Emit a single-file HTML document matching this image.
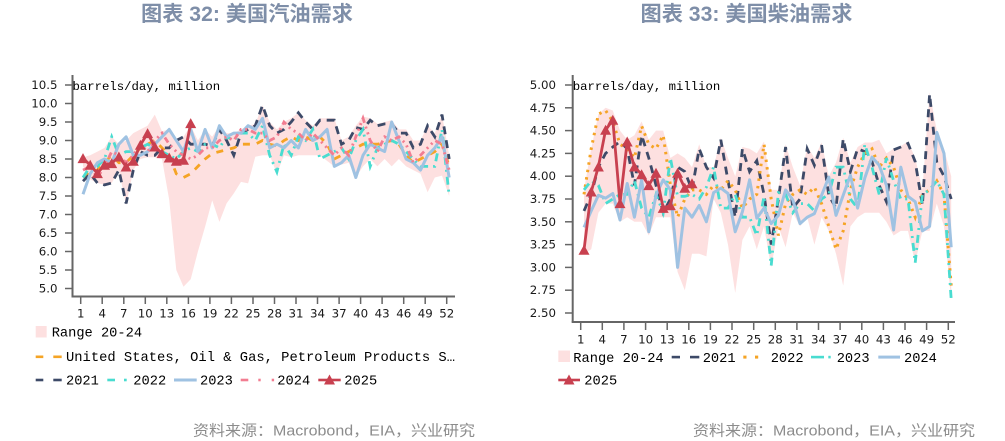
<!DOCTYPE html>
<html><head><meta charset="utf-8"><style>
html,body{margin:0;padding:0;background:#fff;}
svg{display:block;}
.tk{font-family:"DejaVu Sans",sans-serif;font-size:11.8px;fill:#1a1a1a;}
.lg{font-family:"Liberation Mono",monospace;font-size:13.7px;fill:#000;}
.un{font-family:"Liberation Mono",monospace;font-size:12.3px;fill:#000;}
.ti{font-family:"Liberation Sans","Noto Sans CJK SC",sans-serif;font-size:21px;font-weight:bold;fill:#7e8ea8;}
.ft{font-family:"Liberation Sans","Noto Sans CJK SC",sans-serif;font-size:15px;fill:#8c8c8c;}
</style></head><body>
<svg width="1005" height="441" viewBox="0 0 1005 441" xmlns="http://www.w3.org/2000/svg">
<defs>
<marker id="tri" markerWidth="12" markerHeight="12" refX="6" refY="6" markerUnits="userSpaceOnUse" viewBox="0 0 12 12" overflow="visible"><polygon points="6,0.8 11.5,10.8 0.5,10.8" fill="#c8404f"/></marker>
</defs>
<rect width="1005" height="441" fill="#fff"/>

<!-- Titles -->
<text class="ti" x="247" y="21" text-anchor="middle" textLength="212" lengthAdjust="spacingAndGlyphs">图表 32: 美国汽油需求</text>
<text class="ti" x="746.5" y="21" text-anchor="middle" textLength="212" lengthAdjust="spacingAndGlyphs">图表 33: 美国柴油需求</text>

<!-- ============ LEFT CHART ============ -->
<polygon fill="#fde0e0" points="83,157.2 90.2,155.3 97.4,151.6 104.5,147.9 111.7,136.8 118.9,144.2 126.1,140.5 133.3,133.1 140.4,129.4 147.6,125.7 154.8,114.6 162,131.3 169.2,129.4 176.3,140.5 183.5,136.8 190.7,125.7 197.9,140.5 205.1,129.4 212.2,136.8 219.4,125.7 226.6,133.1 233.8,133.1 241,129.4 248.1,125.7 255.3,123.9 262.5,105.3 269.7,122 276.9,129.4 284,122 291.2,118.3 298.4,112.8 305.6,120.2 312.8,125.7 319.9,118.3 327.1,118.3 334.3,118.3 341.5,140.5 348.7,136.8 355.8,125.7 363,116.5 370.2,118.3 377.4,123.9 384.6,122 391.7,120.2 398.9,129.4 406.1,129.4 413.3,140.5 420.5,140.5 427.6,125.7 434.8,133.1 442,114.6 449.2,155.3 449.2,196 442,175.6 434.8,177.5 427.6,192.3 420.5,173.8 413.3,170.1 406.1,166.4 398.9,159 391.7,166.4 384.6,159 377.4,166.4 370.2,159 363,166.4 355.8,177.5 348.7,162.7 341.5,164.6 334.3,166.4 327.1,160.9 319.9,155.3 312.8,155.3 305.6,155.3 298.4,155.3 291.2,157.2 284,155.3 276.9,173.8 269.7,155.3 262.5,155.3 255.3,156.8 248.1,183.4 241,181.9 233.8,193.4 226.6,203.4 219.4,221.9 212.2,200.4 205.1,226.7 197.9,251.5 190.7,279.3 183.5,286.7 176.3,270 169.2,199.7 162,159 154.8,157.2 147.6,157.2 140.4,159 133.3,170.1 126.1,205.3 118.9,170.1 111.7,183 104.5,184.9 97.4,183 90.2,179.4 83,166.4"/>

<polyline fill="none" stroke="#f5a425" stroke-width="2.8" stroke-dasharray="7,7" points="83,177.5 90.2,172 97.4,170.1 104.5,162.7 111.7,155.3 118.9,162.7 126.1,162.7 133.3,155.3 140.4,147.9 147.6,144.2 154.8,140.5 162,147.9 169.2,155.3 176.3,173.8 183.5,177.5 190.7,173.8 197.9,166.4 205.1,159 212.2,153.5 219.4,151.6 226.6,149.8 233.8,147.9 241,144.2 248.1,144.2 255.3,144.2 262.5,140.5 269.7,144.2 276.9,146 284,140.5 291.2,136.8 298.4,140.5 305.6,136.8 312.8,140.5 319.9,136.8 327.1,144.2 334.3,159 341.5,155.3 348.7,151.6 355.8,147.9 363,144.2 370.2,144.2 377.4,144.2 384.6,142.4 391.7,140.5 398.9,144.2 406.1,155.3 413.3,162.7 420.5,159 427.6,155.3 434.8,151.6 442,144.2 449.2,166.4"/>

<polyline fill="none" stroke="#3d4a68" stroke-width="2.8" stroke-dasharray="8,6" points="83,181.2 90.2,173.8 97.4,183 104.5,184.9 111.7,183 118.9,170.1 126.1,203.4 133.3,170.1 140.4,151.6 147.6,155.3 154.8,155.3 162,147.9 169.2,147.9 176.3,140.5 183.5,136.8 190.7,144.2 197.9,144.2 205.1,144.2 212.2,146 219.4,129.4 226.6,140.5 233.8,155.3 241,133.1 248.1,129.4 255.3,125.7 262.5,105.3 269.7,125.7 276.9,133.1 284,129.4 291.2,122 298.4,112.8 305.6,122 312.8,129.4 319.9,120.2 327.1,120.2 334.3,120.2 341.5,144.2 348.7,140.5 355.8,127.5 363,129.4 370.2,120.2 377.4,125.7 384.6,123.9 391.7,123.9 398.9,133.1 406.1,133.1 413.3,147.9 420.5,144.2 427.6,125.7 434.8,136.8 442,114.6 449.2,159"/>

<polyline fill="none" stroke="#49dcd0" stroke-width="2.8" stroke-dasharray="8,5,2,5" points="83,177.5 90.2,166.4 97.4,166.4 104.5,159 111.7,136.8 118.9,155.3 126.1,151.6 133.3,151.6 140.4,147.9 147.6,144.2 154.8,147.9 162,151.6 169.2,155.3 176.3,159 183.5,151.6 190.7,147.9 197.9,151.6 205.1,144.2 212.2,144.2 219.4,147.9 226.6,136.8 233.8,140.5 241,133.1 248.1,133.1 255.3,140.5 262.5,125.7 269.7,155.3 276.9,171.9 284,144.2 291.2,155.3 298.4,136.8 305.6,140.5 312.8,129.4 319.9,159 327.1,155.3 334.3,151.6 341.5,147.9 348.7,159 355.8,140.5 363,129.4 370.2,166.4 377.4,147.9 384.6,144.2 391.7,140.5 398.9,144.2 406.1,151.6 413.3,159 420.5,166.4 427.6,166.4 434.8,166.4 442,129.4 449.2,196"/>

<polyline fill="none" stroke="#9fc2e2" stroke-width="3" stroke-linejoin="round" points="83,194.2 90.2,173.8 97.4,162.7 104.5,159 111.7,162.7 118.9,144.2 126.1,136.8 133.3,155.3 140.4,155.3 147.6,151.6 154.8,144.2 162,136.8 169.2,129.4 176.3,140.5 183.5,151.6 190.7,129.4 197.9,151.6 205.1,129.4 212.2,147.9 219.4,125.7 226.6,136.8 233.8,133.1 241,133.1 248.1,125.7 255.3,129.4 262.5,118.3 269.7,147.9 276.9,144.2 284,147.9 291.2,140.5 298.4,147.9 305.6,129.4 312.8,140.5 319.9,136.8 327.1,129.4 334.3,166.4 341.5,162.7 348.7,155.3 355.8,177.5 363,155.3 370.2,144.2 377.4,147.9 384.6,151.6 391.7,122 398.9,140.5 406.1,159 413.3,162.7 420.5,170.1 427.6,155.3 434.8,147.9 442,136.8 449.2,177.5"/>

<polyline fill="none" stroke="#f27d91" stroke-width="2.8" stroke-dasharray="6,4,2,4,2,4" points="83,170.1 90.2,166.4 97.4,177.5 104.5,166.4 111.7,151.6 118.9,155.3 126.1,162.7 133.3,155.3 140.4,144.2 147.6,151.6 154.8,140.5 162,133.1 169.2,144.2 176.3,151.6 183.5,155.3 190.7,159 197.9,155.3 205.1,147.9 212.2,147.9 219.4,140.5 226.6,136.8 233.8,140.5 241,129.4 248.1,129.4 255.3,133.1 262.5,133.1 269.7,140.5 276.9,136.8 284,122 291.2,129.4 298.4,133.1 305.6,140.5 312.8,133.1 319.9,140.5 327.1,147.9 334.3,155.3 341.5,147.9 348.7,155.3 355.8,136.8 363,118.3 370.2,140.5 377.4,151.6 384.6,136.8 391.7,140.5 398.9,136.8 406.1,144.2 413.3,162.7 420.5,155.3 427.6,147.9 434.8,140.5 442,144.2 449.2,170.1"/>

<polyline fill="none" stroke="#c8404f" stroke-width="2.8" stroke-linejoin="round" marker-start="url(#tri)" marker-mid="url(#tri)" marker-end="url(#tri)" points="83,158.3 90.2,165 97.4,173.3 104.5,165 111.7,163.3 118.9,156.7 126.1,166.7 133.3,161 140.4,145 147.6,133.3 154.8,146.7 162,153.3 169.2,157.7 176.3,161 183.5,160 190.7,123.3"/>

<!-- left axes -->
<g stroke="#666" fill="none">
<line x1="72.5" y1="75" x2="72.5" y2="297" stroke-width="2"/>
<line x1="71.5" y1="296.5" x2="455" y2="296.5" stroke-width="2"/>
<g stroke-width="1.5">
<line x1="65" y1="85" x2="72" y2="85"/><line x1="65" y1="103.5" x2="72" y2="103.5"/><line x1="65" y1="122" x2="72" y2="122"/><line x1="65" y1="140.5" x2="72" y2="140.5"/><line x1="65" y1="159" x2="72" y2="159"/><line x1="65" y1="177.5" x2="72" y2="177.5"/><line x1="65" y1="196" x2="72" y2="196"/><line x1="65" y1="214.5" x2="72" y2="214.5"/><line x1="65" y1="233" x2="72" y2="233"/><line x1="65" y1="251.5" x2="72" y2="251.5"/><line x1="65" y1="270" x2="72" y2="270"/><line x1="65" y1="288.5" x2="72" y2="288.5"/>
<line x1="80.7" y1="297" x2="80.7" y2="304"/><line x1="102.2" y1="297" x2="102.2" y2="304"/><line x1="123.8" y1="297" x2="123.8" y2="304"/><line x1="145.3" y1="297" x2="145.3" y2="304"/><line x1="166.8" y1="297" x2="166.8" y2="304"/><line x1="188.4" y1="297" x2="188.4" y2="304"/><line x1="209.9" y1="297" x2="209.9" y2="304"/><line x1="231.4" y1="297" x2="231.4" y2="304"/><line x1="253" y1="297" x2="253" y2="304"/><line x1="274.5" y1="297" x2="274.5" y2="304"/><line x1="296" y1="297" x2="296" y2="304"/><line x1="317.5" y1="297" x2="317.5" y2="304"/><line x1="339.1" y1="297" x2="339.1" y2="304"/><line x1="360.6" y1="297" x2="360.6" y2="304"/><line x1="382.1" y1="297" x2="382.1" y2="304"/><line x1="403.7" y1="297" x2="403.7" y2="304"/><line x1="425.2" y1="297" x2="425.2" y2="304"/><line x1="446.7" y1="297" x2="446.7" y2="304"/>
</g></g>
<g class="tk" text-anchor="end">
<text x="57.5" y="89">10.5</text><text x="57.5" y="107.5">10.0</text><text x="57.5" y="126">9.5</text><text x="57.5" y="144.5">9.0</text><text x="57.5" y="163">8.5</text><text x="57.5" y="181.5">8.0</text><text x="57.5" y="200">7.5</text><text x="57.5" y="218.5">7.0</text><text x="57.5" y="237">6.5</text><text x="57.5" y="255.5">6.0</text><text x="57.5" y="274">5.5</text><text x="57.5" y="292.5">5.0</text>
</g>
<g class="tk" text-anchor="middle">
<text x="80.7" y="317.5">1</text><text x="102.2" y="317.5">4</text><text x="123.8" y="317.5">7</text><text x="145.3" y="317.5">10</text><text x="166.8" y="317.5">13</text><text x="188.4" y="317.5">16</text><text x="209.9" y="317.5">19</text><text x="231.4" y="317.5">22</text><text x="253" y="317.5">25</text><text x="274.5" y="317.5">28</text><text x="296" y="317.5">31</text><text x="317.5" y="317.5">34</text><text x="339.1" y="317.5">37</text><text x="360.6" y="317.5">40</text><text x="382.1" y="317.5">43</text><text x="403.7" y="317.5">46</text><text x="425.2" y="317.5">49</text><text x="446.7" y="317.5">52</text>
</g>
<text class="un" x="72.5" y="90">barrels/day, million</text>

<!-- left legend -->
<rect x="35.7" y="326" width="11" height="11.5" fill="#fde0e0"/>
<text class="lg" x="51.7" y="336.3">Range 20-24</text>
<rect x="35.7" y="355.5" width="7.6" height="2.6" fill="#f5a425"/><rect x="53.3" y="355.5" width="8.4" height="2.6" fill="#f5a425"/>
<text class="lg" x="66" y="361.2" textLength="389" lengthAdjust="spacingAndGlyphs">United States, Oil &amp; Gas, Petroleum Products S…</text>
<rect x="35.7" y="378.7" width="7.6" height="2.6" fill="#3d4a68"/><rect x="53.3" y="378.7" width="8.4" height="2.6" fill="#3d4a68"/>
<text class="lg" x="66" y="384.5">2021</text>
<rect x="107.3" y="378.7" width="7.7" height="2.6" fill="#49dcd0"/><rect x="124" y="378.7" width="2.7" height="2.6" fill="#49dcd0"/>
<text class="lg" x="133.3" y="384.5">2022</text>
<rect x="174" y="378.5" width="22.7" height="3" fill="#9fc2e2"/>
<text class="lg" x="200" y="384.5">2023</text>
<rect x="240.7" y="378.7" width="7.6" height="2.6" fill="#f27d91"/><rect x="258.3" y="378.7" width="2.4" height="2.6" fill="#f27d91"/><rect x="271.7" y="378.7" width="2.4" height="2.6" fill="#f27d91"/>
<text class="lg" x="277.3" y="384.5">2024</text>
<rect x="318.3" y="378.7" width="22.4" height="2.6" fill="#c8404f"/><polygon points="329.5,374.5 335,384.5 324,384.5" fill="#c8404f"/>
<text class="lg" x="344.3" y="384.5">2025</text>

<!-- ============ RIGHT CHART ============ -->
<polygon fill="#fde0e0" points="584,189.9 591.2,148.8 598.4,114.2 605.6,107.8 612.8,110.5 620,130.6 627.2,139.7 634.4,135.2 641.6,121.5 648.8,139.7 656,130.6 663.2,130.6 670.4,158 677.6,153.4 684.8,158 692,167.1 699.2,144.3 706.4,167.1 713.6,167.1 720.8,137.9 728,158 735.2,176.2 742.4,147 749.6,148.8 756.8,153.4 764,141.5 771.2,189.9 778.4,189.9 785.6,144.3 792.8,167.1 800,185.3 807.2,146.1 814.4,158 821.6,142.5 828.8,176.2 836,162.5 843.2,137.9 850.4,162.5 857.6,147 864.8,142.5 872,142.5 879.2,139.7 886.4,153.4 893.6,148.8 900.8,146.1 908,141.5 915.2,158 922.4,189.9 929.6,92.3 936.8,130.6 944,148.8 951.2,176.2 951.2,299.3 944,226.4 936.8,203.6 929.6,230.9 922.4,230.9 915.2,262.8 908,230.9 900.8,230.9 893.6,235.5 886.4,221.8 879.2,212.7 872,212.7 864.8,212.7 857.6,217.2 850.4,226.4 843.2,285.6 836,253.7 828.8,230.9 821.6,217.2 814.4,244.6 807.2,217.2 800,226.4 792.8,212.7 785.6,247.3 778.4,226.4 771.2,267.4 764,226.4 756.8,249.2 749.6,226.4 742.4,240 735.2,293 728,244.6 720.8,212.7 713.6,199 706.4,256.4 699.2,253.7 692,253.7 684.8,290.2 677.6,272 670.4,217.2 663.2,217.2 656,217.2 648.8,235.5 641.6,221.8 634.4,221.8 627.2,217.2 620,221.8 612.8,203.6 605.6,203.6 598.4,212.7 591.2,249.2 584,253.7"/>

<polyline fill="none" stroke="#3d4a68" stroke-width="2.8" stroke-dasharray="8,6" points="584,210.9 591.2,194.4 598.4,167.1 605.6,153.4 612.8,147 620,141.5 627.2,148.8 634.4,185.3 641.6,135.2 648.8,158 656,185.3 663.2,212.7 670.4,199 677.6,167.1 684.8,171.6 692,189.9 699.2,148.8 706.4,167.1 713.6,178 720.8,139.7 728,180.8 735.2,217.2 742.4,148.8 749.6,171.6 756.8,160.7 764,194.4 771.2,244.6 778.4,199 785.6,147 792.8,208.1 800,199 807.2,148.8 814.4,165.3 821.6,145.2 828.8,195.3 836,208.1 843.2,138.8 850.4,171.6 857.6,148.8 864.8,151.6 872,161.6 879.2,185.3 886.4,201.7 893.6,149.8 900.8,147 908,143.4 915.2,161.6 922.4,205.4 929.6,94.1 936.8,162.5 944,176.2 951.2,199"/>

<polyline fill="none" stroke="#f5a425" stroke-width="3" stroke-dasharray="2.5,5" points="584,194.4 591.2,148.8 598.4,114.2 605.6,110.5 612.8,121.5 620,144.3 627.2,148.8 634.4,158 641.6,126 648.8,144.3 656,148.8 663.2,135.2 670.4,185.3 677.6,217.2 684.8,199 692,189.9 699.2,189.9 706.4,194.4 713.6,185.3 720.8,189.9 728,180.8 735.2,189.9 742.4,208.1 749.6,199 756.8,194.4 764,144.3 771.2,199 778.4,235.5 785.6,203.6 792.8,194.4 800,189.9 807.2,194.4 814.4,187.1 821.6,203.6 828.8,226.4 836,249.2 843.2,230.9 850.4,189.9 857.6,167.1 864.8,153.4 872,148.8 879.2,167.1 886.4,158 893.6,167.1 900.8,189.9 908,199 915.2,217.2 922.4,194.4 929.6,189.9 936.8,180.8 944,194.4 951.2,285.6"/>

<polyline fill="none" stroke="#49dcd0" stroke-width="2.8" stroke-dasharray="8,5,2,5" points="584,189.9 591.2,180.8 598.4,185.3 605.6,203.6 612.8,199 620,194.4 627.2,194.4 634.4,180.8 641.6,208.1 648.8,217.2 656,194.4 663.2,212.7 670.4,158 677.6,196.3 684.8,196.3 692,194.4 699.2,199 706.4,187.1 713.6,167.1 720.8,208.1 728,208.1 735.2,194.4 742.4,217.2 749.6,217.2 756.8,235.5 764,196.3 771.2,265.6 778.4,192.6 785.6,194.4 792.8,212.7 800,203.6 807.2,203.6 814.4,210.9 821.6,199 828.8,194.4 836,167.1 843.2,167.1 850.4,199 857.6,208.1 864.8,144.3 872,167.1 879.2,194.4 886.4,158 893.6,180.8 900.8,199 908,199 915.2,262.8 922.4,194.4 929.6,189.9 936.8,180.8 944,194.4 951.2,299.3"/>

<polyline fill="none" stroke="#9fc2e2" stroke-width="3" stroke-linejoin="round" points="584,227.3 591.2,210.9 598.4,195.3 605.6,198.1 612.8,193.5 620,220 627.2,183.5 634.4,217.2 641.6,179.8 648.8,231.8 656,195.3 663.2,179.8 670.4,189.9 677.6,267.4 684.8,208.1 692,217.2 699.2,205.4 706.4,221.8 713.6,192.6 720.8,188.1 728,193.5 735.2,231.8 742.4,211.8 749.6,179.8 756.8,218.2 764,208.1 771.2,223.6 778.4,215.4 785.6,189.9 792.8,199.9 800,223.6 807.2,217.2 814.4,213.6 821.6,195.3 828.8,177.1 836,215.4 843.2,195.3 850.4,175.3 857.6,208.1 864.8,178 872,157.1 879.2,165.3 886.4,185.3 893.6,230 900.8,167.1 908,196.3 915.2,201.7 922.4,230.9 929.6,226.4 936.8,132.4 944,153.4 951.2,247.3"/>

<polyline fill="none" stroke="#c8404f" stroke-width="2.8" stroke-linejoin="round" marker-start="url(#tri)" marker-mid="url(#tri)" marker-end="url(#tri)" points="584,250 591.2,191.7 598.4,166.7 605.6,130 612.8,120 620,203.3 627.2,141.7 634.4,166.7 641.6,174.5 648.8,185.3 656,173 663.2,208.1 670.4,205.4 677.6,173 684.8,188 692,183.5"/>

<!-- right axes -->
<g stroke="#666" fill="none">
<line x1="572.7" y1="75" x2="572.7" y2="322.5" stroke-width="2"/>
<line x1="571.7" y1="322" x2="955" y2="322" stroke-width="2"/>
<g stroke-width="1.5">
<line x1="565" y1="85" x2="572" y2="85"/><line x1="565" y1="107.8" x2="572" y2="107.8"/><line x1="565" y1="130.6" x2="572" y2="130.6"/><line x1="565" y1="153.4" x2="572" y2="153.4"/><line x1="565" y1="176.2" x2="572" y2="176.2"/><line x1="565" y1="199" x2="572" y2="199"/><line x1="565" y1="221.8" x2="572" y2="221.8"/><line x1="565" y1="244.6" x2="572" y2="244.6"/><line x1="565" y1="267.4" x2="572" y2="267.4"/><line x1="565" y1="290.2" x2="572" y2="290.2"/><line x1="565" y1="313" x2="572" y2="313"/>
<line x1="580.7" y1="322.5" x2="580.7" y2="330"/><line x1="602.3" y1="322.5" x2="602.3" y2="330"/><line x1="623.9" y1="322.5" x2="623.9" y2="330"/><line x1="645.6" y1="322.5" x2="645.6" y2="330"/><line x1="667.2" y1="322.5" x2="667.2" y2="330"/><line x1="688.8" y1="322.5" x2="688.8" y2="330"/><line x1="710.4" y1="322.5" x2="710.4" y2="330"/><line x1="732" y1="322.5" x2="732" y2="330"/><line x1="753.7" y1="322.5" x2="753.7" y2="330"/><line x1="775.3" y1="322.5" x2="775.3" y2="330"/><line x1="796.9" y1="322.5" x2="796.9" y2="330"/><line x1="818.5" y1="322.5" x2="818.5" y2="330"/><line x1="840.1" y1="322.5" x2="840.1" y2="330"/><line x1="861.8" y1="322.5" x2="861.8" y2="330"/><line x1="883.4" y1="322.5" x2="883.4" y2="330"/><line x1="905" y1="322.5" x2="905" y2="330"/><line x1="926.6" y1="322.5" x2="926.6" y2="330"/><line x1="948.3" y1="322.5" x2="948.3" y2="330"/>
</g></g>
<g class="tk" text-anchor="end">
<text x="556" y="89">5.00</text><text x="556" y="111.8">4.75</text><text x="556" y="134.6">4.50</text><text x="556" y="157.4">4.25</text><text x="556" y="180.2">4.00</text><text x="556" y="203">3.75</text><text x="556" y="225.8">3.50</text><text x="556" y="248.6">3.25</text><text x="556" y="271.4">3.00</text><text x="556" y="294.2">2.75</text><text x="556" y="317">2.50</text>
</g>
<g class="tk" text-anchor="middle">
<text x="580.7" y="343.5">1</text><text x="602.3" y="343.5">4</text><text x="623.9" y="343.5">7</text><text x="645.6" y="343.5">10</text><text x="667.2" y="343.5">13</text><text x="688.8" y="343.5">16</text><text x="710.4" y="343.5">19</text><text x="732" y="343.5">22</text><text x="753.7" y="343.5">25</text><text x="775.3" y="343.5">28</text><text x="796.9" y="343.5">31</text><text x="818.5" y="343.5">34</text><text x="840.1" y="343.5">37</text><text x="861.8" y="343.5">40</text><text x="883.4" y="343.5">43</text><text x="905" y="343.5">46</text><text x="926.6" y="343.5">49</text><text x="948.3" y="343.5">52</text>
</g>
<text class="un" x="572.7" y="90">barrels/day, million</text>

<!-- right legend -->
<rect x="558.3" y="350.5" width="11.7" height="11.5" fill="#fde0e0"/>
<text class="lg" x="573.3" y="361.8">Range 20-24</text>
<rect x="671.7" y="355.8" width="8.3" height="2.6" fill="#3d4a68"/><rect x="690" y="355.8" width="9.3" height="2.6" fill="#3d4a68"/>
<text class="lg" x="702.7" y="361.8">2021</text>
<rect x="743.3" y="355.6" width="3.2" height="3" fill="#f5a425"/><rect x="755" y="355.6" width="3.2" height="3" fill="#f5a425"/>
<text class="lg" x="770.7" y="361.8">2022</text>
<rect x="811" y="355.8" width="13" height="2.6" fill="#49dcd0"/><rect x="828.3" y="355.8" width="2.4" height="2.6" fill="#49dcd0"/>
<text class="lg" x="836.7" y="361.8">2023</text>
<rect x="878.3" y="355.6" width="21.7" height="3" fill="#9fc2e2"/>
<text class="lg" x="904" y="361.8">2024</text>
<rect x="558.3" y="378.7" width="21.7" height="2.6" fill="#c8404f"/><polygon points="569,374.5 574.5,384.5 563.5,384.5" fill="#c8404f"/>
<text class="lg" x="584.3" y="384.5">2025</text>

<!-- Footers -->
<text class="ft" x="193" y="435.5" textLength="282" lengthAdjust="spacingAndGlyphs">资料来源：Macrobond，EIA，兴业研究</text>
<text class="ft" x="693" y="435.5" textLength="282" lengthAdjust="spacingAndGlyphs">资料来源：Macrobond，EIA，兴业研究</text>
</svg>
</body></html>
